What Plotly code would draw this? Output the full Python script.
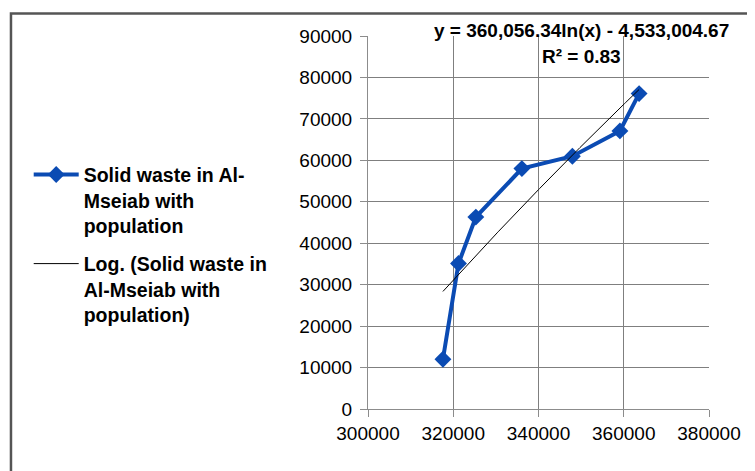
import numpy as np
import plotly.graph_objects as go

# Data
population = [317580, 321230, 325300, 336100, 347950, 359100, 363600]
solid_waste = [12000, 35100, 46300, 58000, 61000, 67100, 76100]

# Logarithmic trendline coefficients as printed on the chart
trend_a = 360056.34
trend_b = -4533004.67
trend_label = "y = 360,056.34ln(x) - 4,533,004.67"
r2_label = "R² = 0.83"

x_ticks = [300000, 320000, 340000, 360000, 380000]
y_ticks = [0, 10000, 20000, 30000, 40000, 50000, 60000, 70000, 80000, 90000]

series_name = "Solid waste in Al-<br>Mseiab with<br>population"
trend_name = "Log. (Solid waste in<br>Al-Mseiab with<br>population)"

FONT = "Liberation Sans, Arial, sans-serif"

tx = np.linspace(min(population), max(population), 200)
ty = trend_a * np.log(tx) + trend_b

fig = go.Figure()
fig.add_trace(go.Scatter(
    x=population, y=solid_waste, mode="lines+markers", name=series_name,
    legendgroup="a",
    line=dict(color="#0b4bb3", width=4),
    marker=dict(symbol="diamond", size=13, color="#0b4bb3"),
))
fig.add_trace(go.Scatter(
    x=tx, y=ty, mode="lines", name=trend_name, legendgroup="b",
    line=dict(color="#000000", width=1),
))

fig.update_layout(
    width=755, height=471,
    margin=dict(l=360, r=54, t=28, b=70),
    paper_bgcolor="white", plot_bgcolor="white",
    font=dict(family=FONT, size=19, color="#000000"),
    showlegend=True,
    legend=dict(
        x=-0.995, xanchor="left", y=0.44, yanchor="middle",
        font=dict(family=FONT, size=19.5, color="#000000", weight="bold"),
        valign="top", bgcolor="rgba(0,0,0,0)", tracegroupgap=10,
        itemwidth=45,
    ),
    xaxis=dict(
        range=[300000, 380000], tickvals=x_ticks, tickformat="d",
        showgrid=True, gridcolor="#7f7f7f", gridwidth=1,
        showline=True, linecolor="#8c8c8c", linewidth=1,
        ticks="outside", ticklen=7, tickcolor="#8c8c8c",
        zeroline=False, fixedrange=True,
        tickfont=dict(family=FONT, size=19, color="#000000"),
    ),
    yaxis=dict(
        range=[0, 90000], tickvals=y_ticks, tickformat="d",
        showgrid=True, gridcolor="#7f7f7f", gridwidth=1,
        showline=True, linecolor="#8c8c8c", linewidth=1,
        ticks="outside", ticklen=7, tickcolor="#8c8c8c",
        zeroline=False, fixedrange=True, ticklabelstandoff=4,
        tickfont=dict(family=FONT, size=19, color="#000000"),
    ),
    annotations=[
        dict(text=trend_label, xref="paper", yref="paper", x=0.627, y=1.016,
             xanchor="center", yanchor="middle", showarrow=False,
             font=dict(family=FONT, size=19, color="#000000", weight="bold")),
        dict(text=r2_label, xref="paper", yref="paper", x=0.627, y=0.946,
             xanchor="center", yanchor="middle", showarrow=False,
             font=dict(family=FONT, size=19, color="#000000", weight="bold")),
    ],
    shapes=[
        dict(type="rect", xref="paper", yref="paper",
             x0=-1.047, x1=1.3, y0=-0.4, y1=1.0603,
             line=dict(color="#555555", width=2.5), layer="below"),
    ],
)

fig.write_html("out.html")
